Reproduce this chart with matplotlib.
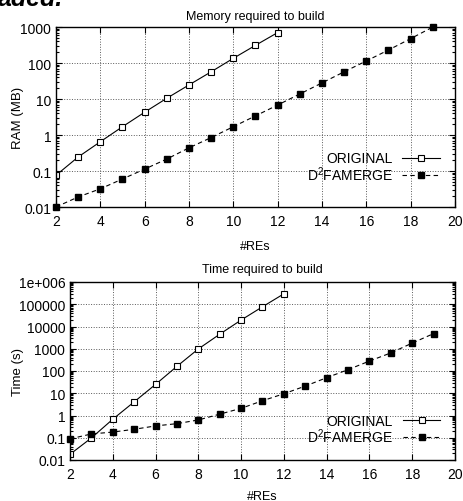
import matplotlib
matplotlib.use("Agg")
import matplotlib.pyplot as plt
from matplotlib.ticker import FixedLocator, LogLocator, NullFormatter

plt.rcParams['font.family'] = ['Liberation Sans', 'DejaVu Sans']
plt.rcParams['mathtext.fontset'] = 'custom'
plt.rcParams['mathtext.rm'] = 'Liberation Sans'

# data
res_orig = [2, 3, 4, 5, 6, 7, 8, 9, 10, 11, 12]
res_d2f = [2, 3, 4, 5, 6, 7, 8, 9, 10, 11, 12, 13, 14, 15, 16, 17, 18, 19]

ram_orig = [0.076, 0.245, 0.65, 1.7, 4.3, 10.5, 24.6, 57, 135, 310, 700]
ram_d2f = [0.01, 0.019, 0.032, 0.06, 0.113, 0.215, 0.44, 0.85, 1.7, 3.4, 6.8,
           13.8, 28, 57, 114, 230, 475, 1000]

time_orig = [0.018, 0.098, 0.68, 4.1, 25, 162, 980, 4500, 19500, 77000, 295000]
time_d2f = [0.089, 0.148, 0.18, 0.24, 0.34, 0.43, 0.63, 1.15, 2.1, 4.6, 9.5,
            21, 50, 115, 280, 650, 1800, 4800]

x_ticks = [2, 4, 6, 8, 10, 12, 14, 16, 18, 20]
ram_ticks = [0.01, 0.1, 1, 10, 100, 1000]
ram_labels = ['0.01', '0.1', '1', '10', '100', '1000']
time_ticks = [0.01, 0.1, 1, 10, 100, 1000, 10000, 100000, 1000000]
time_labels = ['0.01', '0.1', '1', '10', '100', '1000', '10000', '100000', '1e+006']

fig = plt.figure(figsize=(4.64, 5.02), dpi=100)
ax1 = fig.add_axes([56 / 464, 1 - 208 / 502, 399 / 464, 180 / 502])
ax2 = fig.add_axes([70 / 464, 1 - 461 / 502, 385 / 464, 178 / 502])

# cut-off text from the page above the figure
fig.text(-0.005, 1 - 6 / 502, 'aded.', fontsize=18, style='italic',
         fontweight='bold', family='Liberation Sans', va='baseline', ha='left')


def style_axes(ax, yticks, ylabels, ylabel, title, title_y, label_x, label_y,
               legend_anchor):
    ax.set_yscale('log')
    ax.set_xlim(2, 20)
    ax.set_ylim(yticks[0], yticks[-1])
    ax.xaxis.set_major_locator(FixedLocator(x_ticks))
    ax.set_xticklabels([str(t) for t in x_ticks])
    ax.yaxis.set_major_locator(FixedLocator(yticks))
    ax.set_yticklabels(ylabels)
    ax.yaxis.set_minor_locator(LogLocator(base=10, subs=range(2, 10), numticks=20))
    ax.yaxis.set_minor_formatter(NullFormatter())
    ax.tick_params(which='both', direction='in', top=True, right=True,
                   labelsize=10, width=0.8)
    ax.tick_params(axis='y', pad=3.5)
    ax.tick_params(axis='x', pad=5)
    ax.tick_params(which='major', length=4.5)
    ax.tick_params(which='minor', length=2.5)
    ax.grid(True, which='major', linestyle=':', color='0.35', linewidth=0.7)
    for s in ax.spines.values():
        s.set_linewidth(1.0)
    ax.text(0.5, title_y, title, transform=ax.transAxes, fontsize=9,
            ha='center', va='center')
    ax.set_xlabel('#REs', fontsize=9, va='center')
    ax.xaxis.set_label_coords(0.5, label_y)
    ax.set_ylabel(ylabel, fontsize=9.5, va='center')
    ax.yaxis.set_label_coords(label_x, 0.5)
    ax.legend(loc='lower right', bbox_to_anchor=legend_anchor, frameon=False,
              markerfirst=False, fontsize=10, labelspacing=-0.1,
              handlelength=2.7, handletextpad=0.7, borderpad=0, borderaxespad=0)


ax1.plot(res_orig, ram_orig, color='black', linestyle='-', linewidth=0.8,
         marker='s', markersize=4.2, markerfacecolor='white',
         markeredgecolor='black', markeredgewidth=0.8, label='ORIGINAL')
ax1.plot(res_d2f, ram_d2f, color='black', linestyle='--', dashes=(4, 3),
         linewidth=0.8, marker='s', markersize=4.2, markerfacecolor='black',
         markeredgecolor='black', label='D$^2$FAMERGE', clip_on=False)
style_axes(ax1, ram_ticks, ram_labels, 'RAM (MB)', 'Memory required to build',
           1.061, -0.095, -0.217, (0.962, 0.135))

ax2.plot(res_orig, time_orig, color='black', linestyle='-', linewidth=0.8,
         marker='s', markersize=4.2, markerfacecolor='white',
         markeredgecolor='black', markeredgewidth=0.8, label='ORIGINAL')
ax2.plot(res_d2f, time_d2f, color='black', linestyle='--', dashes=(4, 3),
         linewidth=0.8, marker='s', markersize=4.2, markerfacecolor='black',
         markeredgecolor='black', label='D$^2$FAMERGE', clip_on=False)
style_axes(ax2, time_ticks, time_labels, 'Time (s)', 'Time required to build',
           1.073, -0.135, -0.202, (0.962, 0.085))

plt.savefig('out.png', dpi=100)
